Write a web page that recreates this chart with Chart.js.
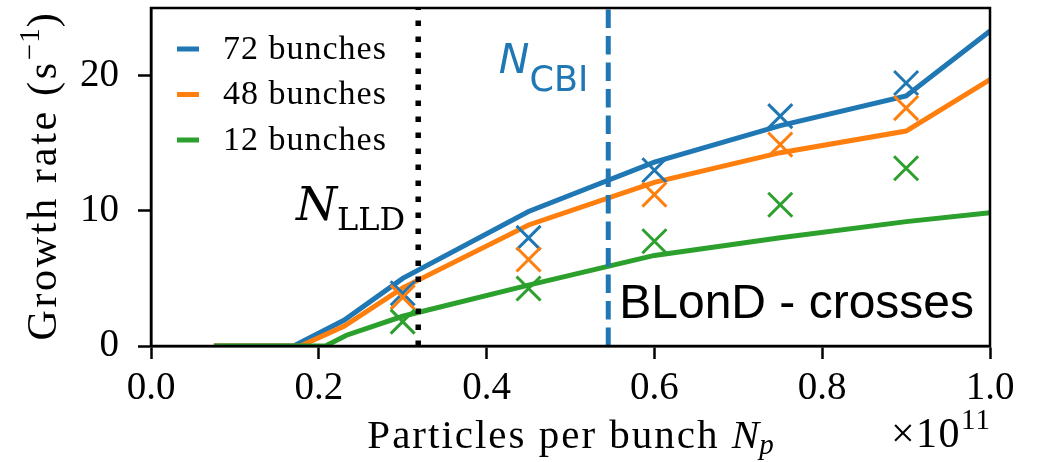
<!DOCTYPE html>
<html><head><meta charset="utf-8">
<script src="https://cdn.jsdelivr.net/npm/chart.js@4.4.0/dist/chart.umd.min.js"></script>
<style>html,body{margin:0;padding:0;background:#fff}canvas{display:block}</style>
</head><body>
<canvas id="c" width="1046" height="462"></canvas>
<script>
// ---- data ----
const seriesLabels = ['72 bunches', '48 bunches', '12 bunches'];
const seriesColors = ['#1f77b4', '#ff7f0e', '#2ca02c'];
// analytical growth-rate curves
const x72 = [0.075, 0.17, 0.23, 0.30, 0.45, 0.60, 0.75, 0.90, 1.00];
const y72 = [0, 0, 1.9, 5.0, 9.95, 13.6, 16.3, 18.5, 23.3];
const x48 = [0.075, 0.178, 0.23, 0.30, 0.45, 0.60, 0.75, 0.90, 1.00];
const y48 = [0, 0, 1.45, 4.3, 8.95, 12.1, 14.3, 15.9, 19.7];
const x12 = [0.075, 0.208, 0.233, 0.30, 0.45, 0.60, 0.75, 0.90, 1.00];
const y12 = [0, 0, 0.8, 2.2, 4.5, 6.7, 8.0, 9.2, 9.85];
// BLonD simulations (crosses)
const xSim = [0.30, 0.45, 0.60, 0.75, 0.90];
const sim72 = [3.9, 8.0, 13.0, 17.0, 19.45];
const sim48 = [3.6, 6.4, 11.2, 14.9, 17.6];
const sim12 = [1.8, 4.25, 7.75, 10.45, 13.15];
// thresholds
const nLLD = 0.3185;
const nCBI = 0.545;
// axes
const xRange = [0, 1];
const yRange = [0, 25];
const xTicks = [0, 0.2, 0.4, 0.6, 0.8, 1.0];
const yTicks = [0, 10, 20];

const pts = (xs, ys) => xs.map((x, i) => ({x: x, y: ys[i]}));
const SERIF = '"Liberation Serif", "Times New Roman", serif';
const TOP = 8;

const lineSets = [[x72, y72], [x48, y48], [x12, y12]].map((p, i) => ({
  label: seriesLabels[i], data: pts(p[0], p[1]), showLine: true,
  borderColor: seriesColors[i], backgroundColor: seriesColors[i],
  borderWidth: 5, pointRadius: 0, tension: 0, order: 10 - i
}));
const crossSets = [sim72, sim48, sim12].map((s, i) => ({
  label: seriesLabels[i] + ' (BLonD)', data: pts(xSim, s), showLine: false,
  pointStyle: 'crossRot', pointRadius: 17, pointBorderWidth: 3,
  borderColor: seriesColors[i], backgroundColor: seriesColors[i], order: 5 - i
}));
const vLines = [
  {label: 'N_LLD', data: [{x: nLLD, y: yRange[0]}, {x: nLLD, y: yRange[1]}], showLine: true,
   borderColor: '#000', borderWidth: 5.5, borderDash: [5.5, 10.5], borderCapStyle: 'butt', pointRadius: 0, order: 7},
  {label: 'N_CBI', data: [{x: nCBI, y: yRange[0]}, {x: nCBI, y: yRange[1]}], showLine: true,
   borderColor: seriesColors[0], borderWidth: 5, borderDash: [18.5, 8], borderCapStyle: 'butt', pointRadius: 0, order: 6}
];

function setSp(ctx, sp) { if ('letterSpacing' in ctx) ctx.letterSpacing = (sp || 0) + 'px'; }
function partsWidth(ctx, parts) {
  let w = 0;
  for (const p of parts) { ctx.font = p.font; setSp(ctx, p.sp); w += ctx.measureText(p.text).width; }
  setSp(ctx, 0); return w;
}
function drawParts(ctx, parts, x, y) {
  let cx = x;
  ctx.textAlign = 'left';
  for (const p of parts) {
    ctx.font = p.font; setSp(ctx, p.sp);
    ctx.fillText(p.text, cx, y + (p.dy || 0));
    cx += ctx.measureText(p.text).width;
  }
  setSp(ctx, 0);
}

const fixTop = {
  id: 'fixTop',
  afterLayout(chart) {
    const ca = chart.chartArea;
    if (Math.abs(ca.top - TOP) > 0.01) {
      ca.top = TOP; ca.height = ca.bottom - ca.top;
      const y = chart.scales.y;
      y.top = TOP; y.height = y.bottom - y.top;
      y.configure();
    }
  }
};

const decor = {
  id: 'decor',
  afterDraw(chart) {
    const ctx = chart.ctx, ca = chart.chartArea;
    const xs = chart.scales.x;
    ctx.save();
    // frame (matplotlib spines)
    ctx.strokeStyle = '#000'; ctx.lineWidth = 2.5;
    ctx.strokeRect(ca.left, ca.top, ca.right - ca.left, ca.bottom - ca.top);
    // legend
    lineSets.forEach((d, i) => {
      const y = ca.top + 41 + i * 45.5;
      ctx.strokeStyle = d.borderColor; ctx.lineWidth = 5; ctx.lineCap = 'butt';
      ctx.beginPath(); ctx.moveTo(ca.left + 26, y); ctx.lineTo(ca.left + 48, y); ctx.stroke();
      ctx.fillStyle = '#000'; ctx.font = '34px ' + SERIF; setSp(ctx, 1);
      ctx.textBaseline = 'middle'; ctx.textAlign = 'left';
      ctx.fillText(d.label, ca.left + 72, y + 1);
      setSp(ctx, 0);
    });
    ctx.textBaseline = 'alphabetic';
    // N_LLD
    ctx.fillStyle = '#000';
    let parts = [{text: 'N', font: 'italic 47px "DejaVu Serif"'}, {text: 'LLD', font: '32px "DejaVu Serif"', dy: 10}];
    let w = partsWidth(ctx, parts);
    drawParts(ctx, parts, xs.getPixelForValue(nLLD) - 13 - w, 220);
    // N_CBI
    ctx.fillStyle = seriesColors[0];
    parts = [{text: 'N', font: 'italic 41px "DejaVu Sans"'}, {text: 'CBI', font: '35px "DejaVu Sans"', dy: 18}];
    w = partsWidth(ctx, parts);
    drawParts(ctx, parts, xs.getPixelForValue(nCBI) - 20 - w, 73);
    // BLonD label
    ctx.fillStyle = '#000';
    ctx.font = '48px "Liberation Sans", Arial, sans-serif';
    ctx.textAlign = 'left';
    ctx.fillText('BLonD - crosses', xs.getPixelForValue(nCBI) + 11, 318);
    // x title
    parts = [{text: 'Particles per bunch ', font: '41px ' + SERIF, sp: 2},
             {text: 'N', font: 'italic 41px ' + SERIF},
             {text: 'p', font: 'italic 29px ' + SERIF, dy: 6}];
    w = partsWidth(ctx, parts);
    drawParts(ctx, parts, (ca.left + ca.right) / 2 - w / 2, 448);
    // offset text
    parts = [{text: '\u00d710', font: '42px ' + SERIF, sp: 1.5}, {text: '11', font: '29px ' + SERIF, sp: 1, dy: -18}];
    w = partsWidth(ctx, parts);
    drawParts(ctx, parts, ca.right + 1 - w, 447);
    // y title
    ctx.save();
    ctx.translate(56, (ca.top + ca.bottom) / 2);
    ctx.rotate(-Math.PI / 2);
    parts = [{text: 'Growth rate (s', font: '42px ' + SERIF, sp: 2.7},
             {text: '\u22121', font: '29px ' + SERIF, sp: 1, dy: -17},
             {text: ')', font: '42px ' + SERIF}];
    w = partsWidth(ctx, parts);
    drawParts(ctx, parts, -w / 2, 0);
    ctx.restore();
    ctx.restore();
  }
};

const axisCommon = {
  type: 'linear',
  grid: {display: true, drawOnChartArea: false, drawTicks: true, tickLength: 13, tickWidth: 2.5, tickColor: '#000', color: '#000'},
  border: {display: true, color: '#000', width: 2.5},
};

new Chart(document.getElementById('c'), {
  type: 'scatter',
  data: {datasets: [...lineSets, ...vLines, ...crossSets]},
  options: {
    responsive: false, animation: false, devicePixelRatio: 1,
    layout: {padding: {top: TOP, right: 56, left: 0, bottom: 0}},
    plugins: {legend: {display: false}, tooltip: {enabled: false}},
    scales: {
      x: Object.assign({}, axisCommon, {
        min: xRange[0], max: xRange[1],
        afterBuildTicks: s => { s.ticks = xTicks.map(v => ({value: v})); },
        afterFit: s => { s.height = 116; s.paddingLeft = 0; s.paddingRight = 0; s.paddingTop = 0; s.paddingBottom = 0; },
        ticks: {font: {family: 'Liberation Serif', size: 39}, color: '#000', padding: 6, maxRotation: 0,
                callback: v => Number(v).toFixed(1)}
      }),
      y: Object.assign({}, axisCommon, {
        min: yRange[0], max: yRange[1],
        afterBuildTicks: s => { s.ticks = yTicks.map(v => ({value: v})); },
        afterFit: s => { s.width = 151; s.paddingLeft = 0; s.paddingRight = 0; s.paddingTop = 0; s.paddingBottom = 0; },
        ticks: {font: {family: 'Liberation Serif', size: 39, lineHeight: 0.4}, color: '#000', padding: 19,
                callback: v => String(v)}
      })
    }
  },
  plugins: [fixTop, decor]
});
</script>
</body></html>
